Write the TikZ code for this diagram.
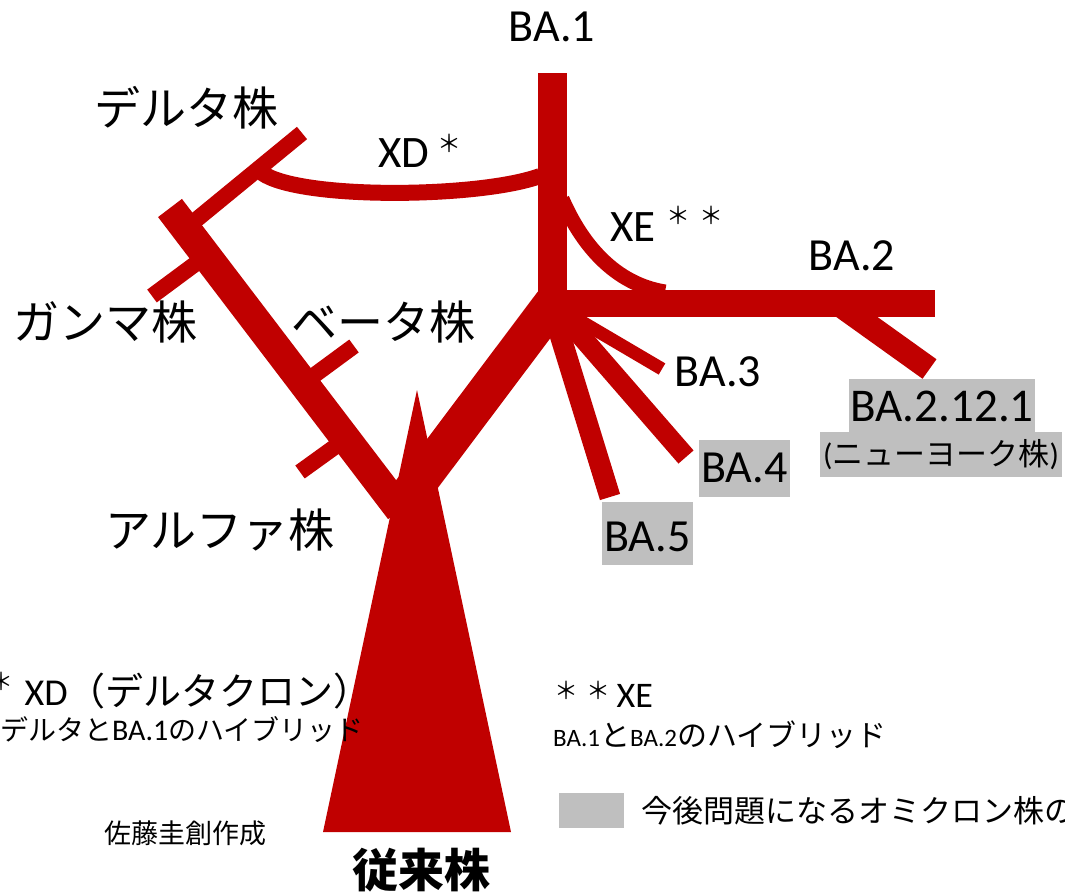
\documentclass[tikz,border=0pt]{standalone}
\usepackage{fontspec}
\setmainfont{Carlito}
\newfontfamily\jp{Noto Sans CJK JP}
\definecolor{tree}{HTML}{C00000}
\definecolor{hl}{HTML}{BFBFBF}
\newcommand{\fs}[1]{\fontsize{#1}{#1}\selectfont}
\newcommand{\J}[1]{{\jp #1}}
\newcommand{\myast}[1]{\raisebox{#1}{\fs{24}\jp ＊}}
\begin{document}
\begin{tikzpicture}[x=1pt,y=-1pt,
  branch/.style={draw=tree, line width=#1},
  lbl/.style={inner sep=0pt, text=black},
  hlbox/.style={fill=hl}]
\useasboundingbox (0,0) rectangle (1065,893);
% ---------- coordinates ----------
\coordinate (apex) at (417,390);
\coordinate (baseL) at (323,832);
\coordinate (baseR) at (511,832);
\coordinate (L0) at (400,510);  \coordinate (L1) at (170,208);
\coordinate (D0) at (185,229);  \coordinate (D1) at (302,133);
\coordinate (G0) at (206,256);  \coordinate (G1) at (152,296);
\coordinate (B0) at (301,385);  \coordinate (B1) at (354,346);
\coordinate (A0) at (343,441);  \coordinate (A1) at (300,472);
\coordinate (R0) at (405,500);  \coordinate (R1) at (553,303);
\coordinate (V0) at (552.5,312); \coordinate (V1) at (552.5,73);
\coordinate (H0) at (540,303.5); \coordinate (H1) at (935,303.5);
\coordinate (N0) at (838,303.5); \coordinate (N1) at (929.5,369);
\coordinate (F30) at (560,309); \coordinate (F31) at (662,369);
\coordinate (F40) at (560,312); \coordinate (F41) at (686,457);
\coordinate (F50) at (553,312); \coordinate (F51) at (610,497);
\coordinate (X0) at (262,173);  \coordinate (X1) at (540,176);
\coordinate (E0) at (562,199);  \coordinate (E1) at (665,292);
% ---------- tree ----------
\fill[tree] (baseL) -- (apex) -- (baseR) -- cycle;
\draw[branch=30pt] (L0) -- (L1);
\draw[branch=16pt] (D0) -- (D1);
\draw[branch=16pt] (G0) -- (G1);
\draw[branch=16pt] (B0) -- (B1);
\draw[branch=16pt] (A0) -- (A1);
\draw[branch=38pt] (R0) -- (R1);
\draw[branch=29pt] (V0) -- (V1);
\draw[branch=27pt] (H0) -- (H1);
\draw[branch=24pt] (N0) -- (N1);
\draw[branch=13pt] (F30) -- (F31);
\draw[branch=20pt] (F40) -- (F41);
\draw[branch=21pt] (F50) -- (F51);
\draw[branch=16pt] (X0) .. controls (300,200) and (480,198) .. (X1);
\draw[branch=15pt] (E0) .. controls (582,245) and (615,284) .. (E1);
% ---------- highlight boxes ----------
\fill[hl] (849,379) rectangle (1035,432);
\fill[hl] (820,432) rectangle (1062,477);
\fill[hl] (699,440) rectangle (790,497);
\fill[hl] (602,502) rectangle (693,565);
\fill[hl] (559,793) rectangle (624,828);
% ---------- labels ----------
\node[lbl, anchor=base] (tBA1) at (552,42) {\fs{46}BA.1};
\node[lbl, anchor=base] (tBA2) at (852,270) {\fs{46}BA.2};
\node[lbl, anchor=base] (tBA3) at (718,386) {\fs{46}BA.3};
\node[lbl] (tBA4) at (744.5,468) {\fs{46}BA.4};
\node[lbl] (tBA5) at (647.5,537) {\fs{46}BA.5};
\node[lbl] (tBA212) at (942,406) {\fs{47}BA.2.12.1};
\node[lbl] (tNY) at (941,455) {\fs{31}(\J{ニューヨーク株})};
\node[lbl, anchor=base west] (tXD) at (378,168) {\fs{45}XD\hspace{8pt}\myast{15pt}};
\node[lbl, anchor=base west] (tXE) at (610,242) {\fs{45}XE\hspace{11pt}\myast{17pt}\hspace{9pt}\myast{17pt}};
\node[lbl] (tDelta) at (186,108) {\fs{46}\J{デルタ株}};
\node[lbl] (tGamma) at (105,322) {\fs{46}\J{ガンマ株}};
\node[lbl] (tBeta) at (383,322) {\fs{46}\J{ベータ株}};
\node[lbl] (tAlpha) at (220,530) {\fs{46}\J{アルファ株}};
\node[lbl, anchor=base west] (tXDnote) at (-10.5,705) {\fs{38}\myast{15pt}\hspace{11pt}XD\J{（デルタクロン）}};
\node[lbl, anchor=base east] (tXDsub) at (364,740) {\fs{28}\J{デルタと}{\fs{30}BA.1}\J{のハイブリッド}};
\node[lbl, anchor=base west] (tXEnote) at (554.5,707) {\fs{36}\myast{8pt}\hspace{8pt}\myast{8pt}\hspace{6pt}XE};
\node[lbl, anchor=base west] (tXEsub) at (553,746) {{\fs{25}BA.1}\fs{30}\J{と}{\fs{25}BA.2}\J{のハイブリッド}};
\node[lbl, anchor=west] (tLegend) at (641,811) {\fs{31}\J{今後問題になるオミクロン株の}};
\node[lbl] (tAuthor) at (185,833) {\fs{27}\J{佐藤圭創作成}};
\node[lbl] (tOrig) at (421,870) {\fs{46}\jp\bfseries 従来株};
\end{tikzpicture}
\end{document}
